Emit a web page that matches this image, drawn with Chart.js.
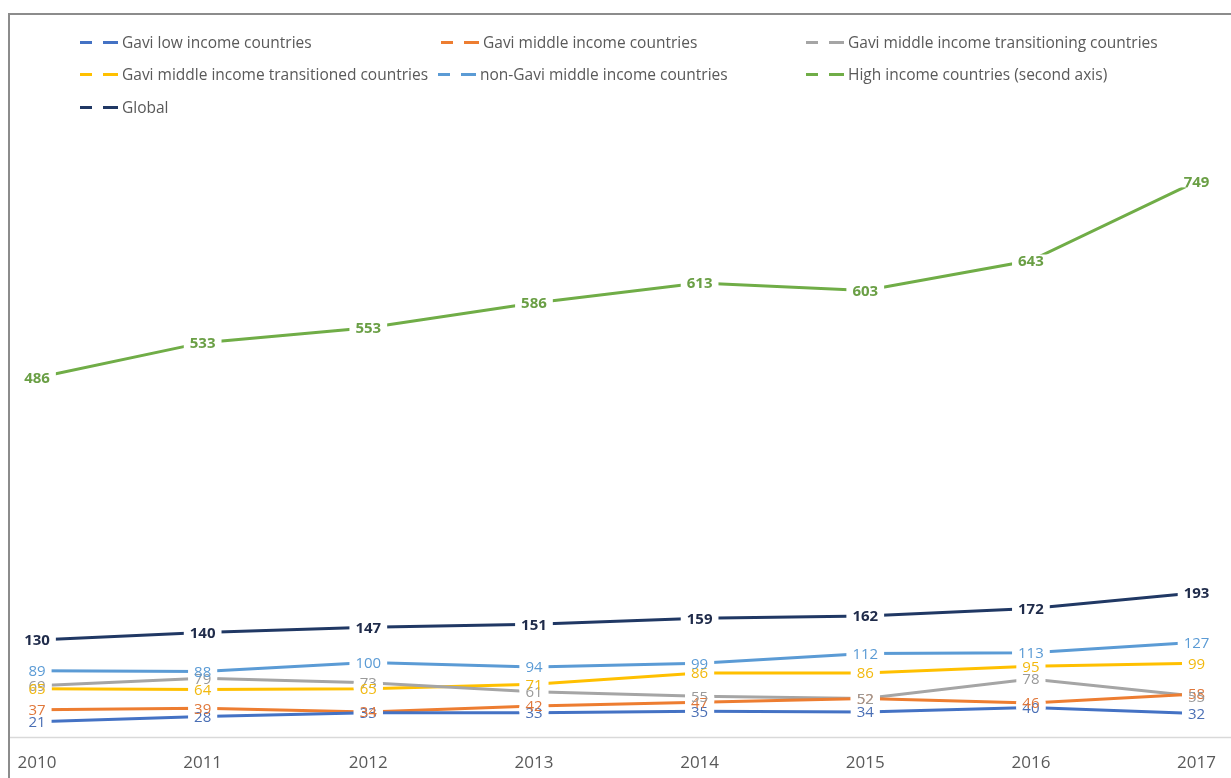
<!DOCTYPE html>
<html>
<head>
<meta charset="utf-8">
<script src="https://cdn.jsdelivr.net/npm/chart.js@4.4.1/dist/chart.umd.min.js"></script>
<style>
  body { margin: 0; background: #fff; }
  #wrap { position: relative; width: 1231px; height: 778px; overflow: hidden; font-family: "Open Sans", sans-serif; }
  #frame { position: absolute; left: 8px; top: 13px; width: 1300px; height: 900px;
           border-left: 2px solid #8c8c8c; border-top: 2px solid #8c8c8c; }
  #chart { position: absolute; left: 0; top: 0; }
  .item { position: absolute; display: flex; align-items: center; height: 20px;
          font-size: 15.5px; color: #595959; white-space: nowrap; }
  .sym { position: relative; width: 42px; height: 3px; flex: none; }
  .sym span { position: absolute; top: 0; height: 3px; }
</style>
</head>
<body>
<div id="wrap">
  <div id="frame"></div>
  <canvas id="chart" width="1231" height="778"></canvas>
  <div id="legend"></div>
</div>
<script>
// Vaccine price per country group, 2010-2017
var years = ['2010', '2011', '2012', '2013', '2014', '2015', '2016', '2017'];
var gaviLow = [21, 28, 33, 33, 35, 34, 40, 32];
var gaviMiddle = [37, 39, 34, 42, 47, 52, 46, 58];
var gaviTransitioning = [69, 79, 73, 61, 55, 52, 78, 55];
var gaviTransitioned = [65, 64, 65, 71, 86, 86, 95, 99];
var nonGaviMiddle = [89, 88, 100, 94, 99, 112, 113, 127];
var highIncome = [486, 533, 553, 586, 613, 603, 643, 749];
var globalAll = [130, 140, 147, 151, 159, 162, 172, 193];

var seriesNames = [
  'Gavi low income countries',
  'Gavi middle income countries',
  'Gavi middle income transitioning countries',
  'Gavi middle income transitioned countries',
  'non-Gavi middle income countries',
  'High income countries (second axis)',
  'Global'
];

var seriesData = [gaviLow, gaviMiddle, gaviTransitioning, gaviTransitioned, nonGaviMiddle, highIncome, globalAll];
var lineColors = ['#4472C4', '#ED7D31', '#A5A5A5', '#FFC000', '#5B9BD5', '#70AD47', '#203864'];
var labelColors = ['#4a6fb5', '#e0773a', '#9a9a9a', '#f2b90f', '#5b9bd5', '#6a9f45', '#1f2b4a'];
var boldLabels = [false, false, false, false, false, true, true];

var datasets = seriesData.map(function (d, i) {
  return {
    label: seriesNames[i],
    data: d,
    borderColor: lineColors[i],
    backgroundColor: lineColors[i],
    borderWidth: 3,
    pointRadius: 0,
    tension: 0,
    yAxisID: i === 5 ? 'y2' : 'y'
  };
});

// labels sit on the points; white boxes first, then all the text so overlaps stay readable
var valueLabels = {
  id: 'valueLabels',
  afterDatasetsDraw: function (chart) {
    var ctx = chart.ctx;
    var items = [];
    chart.data.datasets.forEach(function (ds, i) {
      var meta = chart.getDatasetMeta(i);
      ctx.font = (boldLabels[i] ? 'bold ' : '') + '15px "Open Sans"';
      meta.data.forEach(function (pt, j) {
        var txt = String(ds.data[j]);
        items.push({ x: pt.x, y: pt.y, t: txt, w: ctx.measureText(txt).width, i: i });
      });
    });
    ctx.save();
    ctx.fillStyle = '#fff';
    items.forEach(function (it) {
      ctx.fillRect(it.x - it.w / 2 - 6, it.y - 6, it.w + 12, 12);
    });
    ctx.textAlign = 'center';
    ctx.textBaseline = 'middle';
    items.forEach(function (it) {
      ctx.font = (boldLabels[it.i] ? 'bold ' : '') + '15px "Open Sans"';
      ctx.fillStyle = labelColors[it.i];
      ctx.fillText(it.t, it.x, it.y + 1);
    });
    ctx.restore();
  }
};

// horizontal axis line across the whole frame
var baseLine = {
  id: 'baseLine',
  beforeDatasetsDraw: function (chart) {
    var ctx = chart.ctx;
    var y = chart.scales.y.getPixelForValue(0);
    ctx.save();
    ctx.strokeStyle = '#d9d9d9';
    ctx.lineWidth = 1.5;
    ctx.beginPath();
    ctx.moveTo(10, y);
    ctx.lineTo(chart.width, y);
    ctx.stroke();
    ctx.restore();
  }
};

new Chart(document.getElementById('chart'), {
  type: 'line',
  data: { labels: years, datasets: datasets },
  options: {
    responsive: false,
    animation: false,
    layout: { padding: { left: 37, right: 28, top: 100, bottom: -10 } },
    plugins: { legend: { display: false }, tooltip: { enabled: false } },
    scales: {
      x: {
        offset: false,
        grid: { display: false, drawTicks: false },
        border: { display: false },
        ticks: { color: '#595959', font: { family: 'Open Sans', size: 17 }, padding: 15, maxRotation: 0 }
      },
      y: { display: false, min: 0, max: 850 },
      // second axis for the high income series
      y2: { display: false, min: 4, max: 858, position: 'right' }
    }
  },
  plugins: [baseLine, valueLabels]
});

// legend, three columns like the spreadsheet original
var legendSpots = [[80, 32], [441, 32], [806, 32], [80, 64], [438, 64], [806, 64], [80, 97]];
var legend = document.getElementById('legend');
seriesNames.forEach(function (name, i) {
  var el = document.createElement('div');
  el.className = 'item';
  el.style.left = legendSpots[i][0] + 'px';
  el.style.top = legendSpots[i][1] + 'px';
  el.innerHTML = '<div class="sym"><span style="left:0;width:12px;background:' + lineColors[i] +
    '"></span><span style="left:23px;width:15px;background:' + lineColors[i] + '"></span></div>' + name;
  legend.appendChild(el);
});
</script>
</body>
</html>
